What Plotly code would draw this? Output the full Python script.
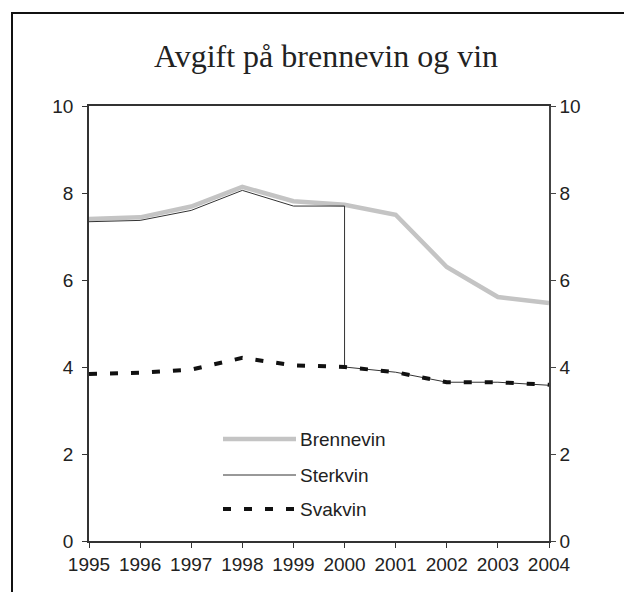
import plotly.graph_objects as go

years = [1995, 1996, 1997, 1998, 1999, 2000, 2001, 2002, 2003, 2004]
brennevin = [7.40, 7.44, 7.69, 8.14, 7.81, 7.73, 7.50, 6.30, 5.61, 5.47]
sterkvin_years = [1995, 1996, 1997, 1998, 1999, 2000, 2000, 2001, 2002, 2003, 2004]
sterkvin = [7.34, 7.37, 7.60, 8.06, 7.70, 7.70, 4.00, 3.88, 3.65, 3.65, 3.58]
svakvin = [3.84, 3.87, 3.94, 4.21, 4.04, 4.00, 3.88, 3.65, 3.65, 3.59]
series_names = ["Brennevin", "Sterkvin", "Svakvin"]
title_text = "Avgift på brennevin og vin"
y_ticks = [0, 2, 4, 6, 8, 10]

W, H = 624, 592
L, R, T, B = 89, 549, 106, 541

fig = go.Figure()
fig.add_trace(go.Scatter(x=years, y=brennevin, mode="lines", name=series_names[0],
                         line=dict(color="#c4c4c4", width=4.5), showlegend=False))
fig.add_trace(go.Scatter(x=sterkvin_years, y=sterkvin, mode="lines", name=series_names[1],
                         line=dict(color="#333333", width=1), showlegend=False))
fig.add_trace(go.Scatter(x=years, y=svakvin, mode="lines", name=series_names[2],
                         line=dict(color="#111111", width=4, dash="8px,13px"), showlegend=False))
# invisible trace to activate right axis
fig.add_trace(go.Scatter(x=years, y=svakvin, yaxis="y2", mode="lines",
                         line=dict(width=0), opacity=0, showlegend=False, hoverinfo="skip"))

font_ticks = dict(family="Liberation Sans, Arial, sans-serif", size=19, color="#222222")

def px_to_paper_x(px):
    return (px - L) / (R - L)

def px_to_paper_y(py):
    return (B - py) / (B - T)

shapes = []
annotations = []
# outer frame: only top and left edges are visible in the reference
frame_line = dict(color="#111111", width=2)
shapes.append(dict(type="line", xref="paper", yref="paper",
                   x0=px_to_paper_x(12), x1=px_to_paper_x(624),
                   y0=px_to_paper_y(13), y1=px_to_paper_y(13), line=frame_line, layer="above"))
shapes.append(dict(type="line", xref="paper", yref="paper",
                   x0=px_to_paper_x(12), x1=px_to_paper_x(12),
                   y0=px_to_paper_y(12), y1=px_to_paper_y(592), line=frame_line, layer="above"))

# custom legend
leg_styles = [dict(color="#c4c4c4", width=4.5),
              dict(color="#333333", width=1),
              dict(color="#111111", width=4, dash="8px,13px")]
leg_y = [439, 475, 509]
for name, st, ly in zip(series_names, leg_styles, leg_y):
    shapes.append(dict(type="line", xref="paper", yref="paper",
                       x0=px_to_paper_x(223), x1=px_to_paper_x(296),
                       y0=px_to_paper_y(ly), y1=px_to_paper_y(ly), line=st))
    annotations.append(dict(text=name, xref="paper", yref="paper",
                            x=px_to_paper_x(298), y=px_to_paper_y(ly),
                            xanchor="left", yanchor="middle", showarrow=False,
                            font=dict(family="Liberation Sans, Arial, sans-serif", size=19, color="#222222")))

fig.update_layout(
    width=W, height=H,
    margin=dict(l=L, r=W - R, t=T, b=H - B),
    paper_bgcolor="white", plot_bgcolor="white",
    title=dict(text=title_text, x=326 / W, xanchor="center", y=1 - 56 / H, yanchor="middle",
               yref="container",
               font=dict(family="Liberation Serif, Times New Roman, serif", size=32, color="#222222")),
    xaxis=dict(range=[1995, 2004], tickvals=years, ticktext=[str(y) for y in years],
               showgrid=False, zeroline=False, showline=True, linecolor="#333333", linewidth=1.5,
               mirror=True, ticks="outside", ticklen=5, tickcolor="#333333", tickwidth=1,
               tickfont=font_ticks),
    yaxis=dict(range=[0, 10], tickvals=y_ticks, showgrid=False, zeroline=False,
               showline=True, linecolor="#333333", linewidth=1.5, ticklabelstandoff=5,
               ticks="outside", ticklen=5, tickcolor="#333333", tickwidth=1, tickfont=font_ticks),
    yaxis2=dict(range=[0, 10], tickvals=y_ticks, overlaying="y", side="right", showgrid=False,
                zeroline=False, showline=True, linecolor="#444444", linewidth=1.5,
                ticks="outside", ticklen=5, tickcolor="#444444", tickwidth=1, tickfont=font_ticks),
    shapes=shapes, annotations=annotations, showlegend=False,
)

fig.write_html("out.html", config={"displayModeBar": False},
               post_script="document.body.style.margin='0';document.documentElement.style.overflow='hidden';document.body.style.overflow='hidden';")
